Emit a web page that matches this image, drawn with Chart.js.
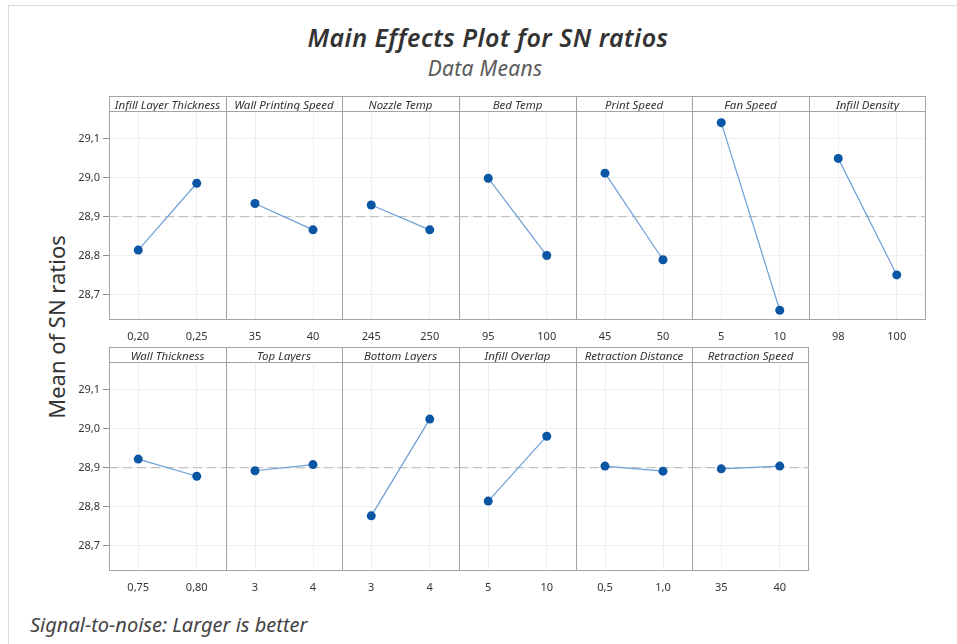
<!DOCTYPE html>
<html>
<head>
<meta charset="utf-8">
<script src="https://cdn.jsdelivr.net/npm/chart.js@4.4.1/dist/chart.umd.min.js"></script>
<style>
html,body{margin:0;padding:0;background:#fff;width:957px;height:644px;overflow:hidden;font-family:"Noto Sans",sans-serif;}
#frame{position:absolute;left:8px;top:5px;width:960px;height:650px;border-left:1px solid #dcdcdc;border-top:1px solid #dcdcdc;}
.txt{position:absolute;white-space:nowrap;}
#title{left:0;top:22px;width:976px;text-align:center;font-size:25px;line-height:30px;letter-spacing:0.5px;font-weight:600;font-style:italic;color:#333;}
#subtitle{left:0;top:55px;width:970px;text-align:center;font-size:21px;line-height:26px;letter-spacing:0.3px;font-style:italic;color:#5a5a5a;}
#ytitle{left:-94px;top:313px;width:300px;height:28px;line-height:28px;text-align:center;font-size:22px;color:#333;transform:rotate(-90deg);}
#footer{left:30px;top:613px;font-size:20px;line-height:24px;font-style:italic;color:#444;}
canvas{position:absolute;}
</style>
</head>
<body>
<div id="frame"></div>
<div class="txt" id="title">Main Effects Plot for SN ratios</div>
<div class="txt" id="subtitle">Data Means</div>
<div class="txt" id="ytitle">Mean of SN ratios</div>
<div class="txt" id="footer">Signal-to-noise: Larger is better</div>
<script>
// ---- data ----
const factors = ['Infill Layer Thickness','Wall Printing Speed','Nozzle Temp','Bed Temp','Print Speed','Fan Speed','Infill Density',
                 'Wall Thickness','Top Layers','Bottom Layers','Infill Overlap','Retraction Distance','Retraction Speed'];
const levelLabels = [['0,20','0,25'],['35','40'],['245','250'],['95','100'],['45','50'],['5','10'],['98','100'],
                     ['0,75','0,80'],['3','4'],['3','4'],['5','10'],['0,5','1,0'],['35','40']];
const snLevel1 = [28.814, 28.934, 28.930, 28.999, 29.012, 29.142, 29.050, 28.922, 28.892, 28.776, 28.814, 28.904, 28.897];
const snLevel2 = [28.986, 28.866, 28.866, 28.800, 28.789, 28.659, 28.750, 28.878, 28.908, 29.025, 28.981, 28.891, 28.904];
const overallMean = 28.9;
const yTicks = [28.7, 28.8, 28.9, 29.0, 29.1];
const yRange = [28.634, 29.172];

// ---- layout ----
const rowTops = [96, 347];
const rowCounts = [7, 6];
const panelEdges = [109, 226, 342, 459, 576, 692, 809, 926];
const HEAD_H = 15, PLOT_H = 209, XAX_H = 30, YAX_W = 55;
const FONT = '"Noto Sans", sans-serif';

const framePlugin = {
  id: 'frame',
  beforeDatasetsDraw(chart, args, opts) {
    const ctx = chart.ctx, a = chart.chartArea;
    ctx.save();
    ctx.strokeStyle = '#a3a3a3';
    ctx.lineWidth = 1;
    ctx.beginPath();
    ctx.moveTo(a.left, 0.5); ctx.lineTo(a.right, 0.5);
    ctx.moveTo(a.left, a.top + 0.5); ctx.lineTo(a.right, a.top + 0.5);
    ctx.moveTo(a.left, a.bottom - 0.5); ctx.lineTo(a.right, a.bottom - 0.5);
    ctx.moveTo(a.left + 0.5, 0); ctx.lineTo(a.left + 0.5, a.bottom);
    if (opts.last) { ctx.moveTo(a.right - 0.5, 0); ctx.lineTo(a.right - 0.5, a.bottom); }
    ctx.stroke();
    ctx.restore();
  }
};

factors.forEach((name, i) => {
  const row = i < rowCounts[0] ? 0 : 1;
  const col = row === 0 ? i : i - rowCounts[0];
  const first = col === 0;
  const last = col === rowCounts[row] - 1;
  const left = panelEdges[col];
  const w = panelEdges[col + 1] - panelEdges[col];
  const cv = document.createElement('canvas');
  const cw = w + (first ? YAX_W : 0);
  const ch = HEAD_H + PLOT_H + XAX_H;
  cv.width = cw; cv.height = ch;
  cv.style.left = (left - (first ? YAX_W : 0)) + 'px';
  cv.style.top = rowTops[row] + 'px';
  cv.style.width = cw + 'px'; cv.style.height = ch + 'px';
  document.body.appendChild(cv);

  new Chart(cv.getContext('2d'), {
    type: 'line',
    data: {
      datasets: [
        { data: [{x: 0, y: snLevel1[i]}, {x: 1, y: snLevel2[i]}],
          borderColor: '#6d9fd6', borderWidth: 1.2, pointRadius: 4.5,
          pointBackgroundColor: '#0b55a5', pointBorderColor: '#0b55a5', pointBorderWidth: 0, order: 1 },
        { data: [{x: -0.5, y: overallMean}, {x: 1.5, y: overallMean}],
          borderColor: '#c2c2c2', borderWidth: 1.2, borderDash: [9, 5], pointRadius: 0, order: 2 }
      ]
    },
    options: {
      responsive: false, animation: false, devicePixelRatio: 1,
      layout: { padding: 0, autoPadding: false },
      plugins: {
        legend: { display: false },
        tooltip: { enabled: false },
        title: { display: true, text: name, fullSize: false,
                 font: { family: FONT, size: 11.5, style: 'italic', weight: 'normal', lineHeight: '11px' },
                 color: '#333', padding: { top: 4, bottom: 0 } },
        frame: { last: last }
      },
      scales: {
        x: {
          type: 'linear', min: -0.5, max: 1.5,
          afterBuildTicks: s => { s.ticks = [{value: 0}, {value: 1}]; },
          afterFit: s => { s.height = XAX_H; },
          grid: { color: '#efefef', tickLength: 6, tickColor: 'rgba(0,0,0,0)' },
          border: { display: false },
          ticks: { callback: (v, idx) => levelLabels[i][idx], font: { family: FONT, size: 11 },
                   color: '#353535', padding: 4, maxRotation: 0, autoSkip: false }
        },
        y: {
          type: 'linear', min: yRange[0], max: yRange[1],
          afterBuildTicks: s => { s.ticks = yTicks.map(v => ({value: v})); },
          afterFit: s => { s.width = first ? YAX_W : 0; },
          grid: { color: '#efefef', drawTicks: first, tickLength: 6, tickColor: '#8c8c8c' },
          border: { display: false },
          ticks: { display: first, callback: v => v.toFixed(1).replace('.', ','),
                   font: { family: FONT, size: 11 }, color: '#353535', padding: 3 }
        }
      }
    },
    plugins: [framePlugin]
  });
});
</script>
</body>
</html>
